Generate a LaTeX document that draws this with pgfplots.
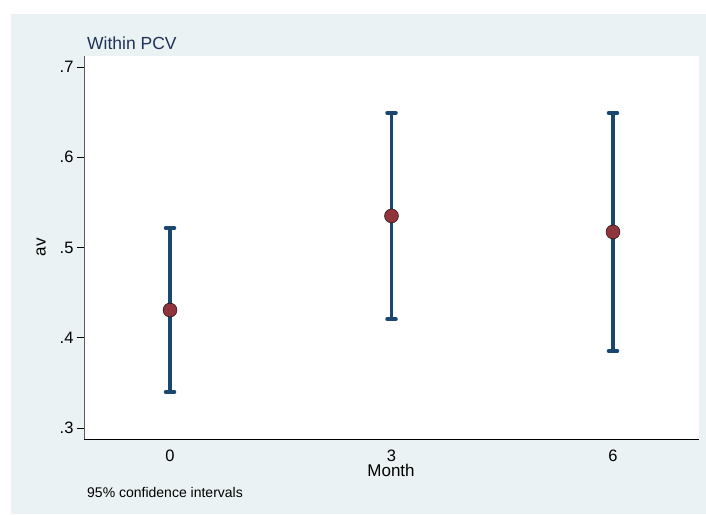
\documentclass[border=0pt]{standalone}
\usepackage{pgfplots}
\usepackage{pgfplotstable}
\pgfplotsset{compat=1.18}
\usepackage{fontspec}
\setmainfont{Liberation Sans}

\definecolor{stnavy}{RGB}{26,71,111}
\definecolor{stmaroon}{RGB}{144,53,59}
\definecolor{stbg}{RGB}{234,242,243}
\definecolor{sttitle}{RGB}{30,50,90}

% mean of av by month with 95% confidence limits
\pgfplotstableread{
month av     lo     hi
0     0.4307 0.3399 0.5216
3     0.5350 0.4208 0.6490
6     0.5172 0.3853 0.6490
}\cidata

\begin{document}
\begin{tikzpicture}[x=1pt,y=1pt]
% graph region
\fill[white] (0,0) rectangle (706,514);
\fill[stbg] (11,0) rectangle (706,500);
\begin{axis}[
  at={(84pt,75pt)}, anchor=south west,
  scale only axis, width=615pt, height=383pt,
  xmin=-1.165, xmax=7.165, ymin=0.2878, ymax=0.7122,
  axis background/.style={fill=white},
  axis x line*=bottom, axis y line*=left,
  x axis line style={black, line width=0.9pt, -},
  y axis line style={black!65, line width=1pt, -},
  xtick={0,3,6}, ytick={0.3,0.4,0.5,0.6,0.7},
  yticklabels={.3,.4,.5,.6,.7},
  tick align=outside,
  major x tick style={draw=none},
  major y tick style={black, line width=0.8pt},
  major tick length=7pt,
  ticklabel style={font=\fontsize{16.5}{18}\selectfont},
  /pgf/number format/assume math mode=true,
  xlabel={Month}, ylabel={av},
  label style={font=\fontsize{17}{19}\selectfont},
  xlabel style={at={(axis description cs:0.4992,-0.081)}, anchor=center},
  ylabel style={at={(axis description cs:-0.0699,0.501)}, anchor=center},
  clip=false,
]
% confidence intervals
\addplot[draw=none, mark=none,
  error bars/.cd, y dir=both, y explicit,
  error bar style={stnavy, line width=3.2pt},
  error mark=-,
  error mark options={rotate=90, stnavy, line width=3.5pt, mark size=4.5pt, line cap=round}]
  table[x=month, y=av,
        y error plus expr=\thisrow{hi}-\thisrow{av},
        y error minus expr=\thisrow{av}-\thisrow{lo}] {\cidata};
% means
\addplot[only marks, mark=*, mark size=7pt,
  mark options={fill=stmaroon, draw=none}]
  table[x=month, y=av] {\cidata};
\end{axis}
\node[anchor=base west, font=\fontsize{17.5}{20}\selectfont, text=sttitle, inner sep=0] at (87,464) {Within PCV};
\node[anchor=base west, font=\fontsize{14}{16}\selectfont, inner sep=0] at (87,17) {95\% confidence intervals};
\end{tikzpicture}
\end{document}
